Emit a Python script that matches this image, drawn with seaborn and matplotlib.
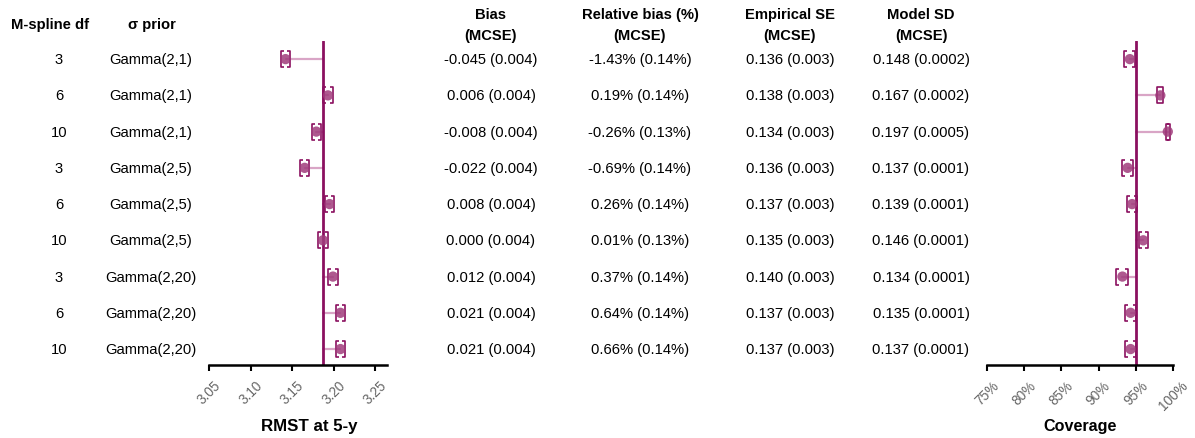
import numpy as np
import pandas as pd
import matplotlib
matplotlib.use("Agg")
import matplotlib.pyplot as plt
import matplotlib.transforms as mtransforms
from matplotlib.path import Path
import seaborn as sns

# --- data ---
spline_df = ["3", "6", "10", "3", "6", "10", "3", "6", "10"]
sigma_prior = ["Gamma(2,1)", "Gamma(2,1)", "Gamma(2,1)",
               "Gamma(2,5)", "Gamma(2,5)", "Gamma(2,5)",
               "Gamma(2,20)", "Gamma(2,20)", "Gamma(2,20)"]
true_rmst = 3.187
bias = [-0.045, 0.006, -0.008, -0.022, 0.008, 0.000, 0.012, 0.021, 0.021]
bias_mcse = [0.004] * 9
bias_txt = ["-0.045 (0.004)", "0.006 (0.004)", "-0.008 (0.004)", "-0.022 (0.004)",
            "0.008 (0.004)", "0.000 (0.004)", "0.012 (0.004)", "0.021 (0.004)",
            "0.021 (0.004)"]
relbias_txt = ["-1.43% (0.14%)", "0.19% (0.14%)", "-0.26% (0.13%)", "-0.69% (0.14%)",
               "0.26% (0.14%)", "0.01% (0.13%)", "0.37% (0.14%)", "0.64% (0.14%)",
               "0.66% (0.14%)"]
empse_txt = ["0.136 (0.003)", "0.138 (0.003)", "0.134 (0.003)", "0.136 (0.003)",
             "0.137 (0.003)", "0.135 (0.003)", "0.140 (0.003)", "0.137 (0.003)",
             "0.137 (0.003)"]
modsd_txt = ["0.148 (0.0002)", "0.167 (0.0002)", "0.197 (0.0005)", "0.137 (0.0001)",
             "0.139 (0.0001)", "0.146 (0.0001)", "0.134 (0.0001)", "0.135 (0.0001)",
             "0.137 (0.0001)"]
coverage = [94.2, 98.3, 99.3, 93.9, 94.5, 96.0, 93.2, 94.3, 94.3]
n_sims = 1000
rmst_ticks = [3.05, 3.10, 3.15, 3.20, 3.25]
cov_ticks = [75, 80, 85, 90, 95, 100]

df = pd.DataFrame({"row": np.arange(9), "bias": bias, "mcse": bias_mcse, "cov": coverage})
df["est"] = true_rmst + df["bias"]
df["est_lo"] = df["est"] - 1.4 * df["mcse"]
df["est_hi"] = df["est"] + 1.4 * df["mcse"]
p = df["cov"] / 100
df["cov_mcse"] = 100 * np.sqrt(p * (1 - p) / n_sims)
df["cov_lo"] = df["cov"] - df["cov_mcse"]
df["cov_hi"] = df["cov"] + df["cov_mcse"]

sns.set_style("white")
plt.rcParams["font.family"] = ["Liberation Sans", "DejaVu Sans"]
plt.rcParams["text.color"] = "black"

DARK = "#8B1060"
POINT = "#A03C7C"
STEM = "#D9A5C6"
GREY = "#666666"
FS = 10.6

W, H = 1195, 439
fig = plt.figure(figsize=(W / 100, H / 100), dpi=100)
top_px, bot_px = 42, 366
ax1 = fig.add_axes([209 / W, 1 - bot_px / H, (387 - 209) / W, (bot_px - top_px) / H])
ax2 = fig.add_axes([987 / W, 1 - bot_px / H, (1173 - 987) / W, (bot_px - top_px) / H])

lb = Path([(0.4, 1), (0, 1), (0, -1), (0.4, -1)],
          [Path.MOVETO, Path.LINETO, Path.LINETO, Path.LINETO])
rb = Path([(-0.4, 1), (0, 1), (0, -1), (-0.4, -1)],
          [Path.MOVETO, Path.LINETO, Path.LINETO, Path.LINETO])


def forest(ax, xcol, locol, hicol, ref, xlim, ticks, ticklabels):
    for _, r in df.iterrows():
        ax.plot([ref, r[xcol]], [r["row"], r["row"]], color=STEM, lw=1.6, zorder=1)
    ax.axvline(ref, color=DARK, lw=2.0, zorder=2)
    ax.plot(df[locol], df["row"], ls="none", marker=lb, ms=12, mew=1.2,
            mec=DARK, mfc="none", zorder=3)
    ax.plot(df[hicol], df["row"], ls="none", marker=rb, ms=12, mew=1.2,
            mec=DARK, mfc="none", zorder=3)
    sns.scatterplot(data=df, x=xcol, y="row", ax=ax, color=POINT, s=55,
                    edgecolor="none", alpha=0.85, zorder=4, legend=False)
    ax.set_xlim(*xlim)
    ax.set_ylim(8.44, -0.5)
    ax.set_yticks([])
    ax.set_xticks(ticks)
    ax.set_xticklabels(ticklabels, rotation=45, ha="center", va="top",
                       color=GREY, fontsize=9.8)
    ax.tick_params(axis="x", direction="out", length=4, width=1.5, color="black",
                   pad=5, bottom=True)
    ax.set_xlabel("")
    ax.set_ylabel("")
    sns.despine(ax=ax, left=True)
    ax.spines["bottom"].set_linewidth(1.8)
    ax.spines["bottom"].set_color("black")
    ax.patch.set_alpha(0)


forest(ax1, "est", "est_lo", "est_hi", true_rmst, (3.05, 3.264), rmst_ticks,
       [f"{t:.2f}" for t in rmst_ticks])
forest(ax2, "cov", "cov_lo", "cov_hi", 95, (75, 100), cov_ticks,
       [f"{t}%" for t in cov_ticks])

fig.text(309 / W, 1 - 427 / H, "RMST at 5-y", ha="center", va="center",
         fontsize=12.2, fontweight="bold")
fig.text(1080 / W, 1 - 427 / H, "Coverage", ha="center", va="center",
         fontsize=11.6, fontweight="bold")

# text columns, aligned to the rows of the left panel
tr = mtransforms.blended_transform_factory(fig.transFigure, ax1.transData)
cols = [(59, spline_df), (151, sigma_prior), (491, bias_txt), (640, relbias_txt),
        (790, empse_txt), (921, modsd_txt)]
for xpx, labels in cols:
    for i, lab in enumerate(labels):
        fig.text(xpx / W, i, lab, transform=tr, ha="center", va="center", fontsize=FS)

fig.text(50 / W, 1 - 25 / H, "M-spline df", ha="center", va="center",
         fontsize=FS, fontweight="bold")
fig.text(152 / W, 1 - 25 / H, "σ prior", ha="center", va="center",
         fontsize=FS, fontweight="bold")
for xpx, head in [(491, "Bias"), (640, "Relative bias (%)"), (790, "Empirical SE"),
                  (921, "Model SD")]:
    fig.text(xpx / W, 1 - 15 / H, head, ha="center", va="center",
             fontsize=FS, fontweight="bold")
    fig.text(xpx / W, 1 - 36 / H, "(MCSE)", ha="center", va="center",
             fontsize=FS, fontweight="bold")

fig.savefig("out.png", dpi=100)
plt.close(fig)
